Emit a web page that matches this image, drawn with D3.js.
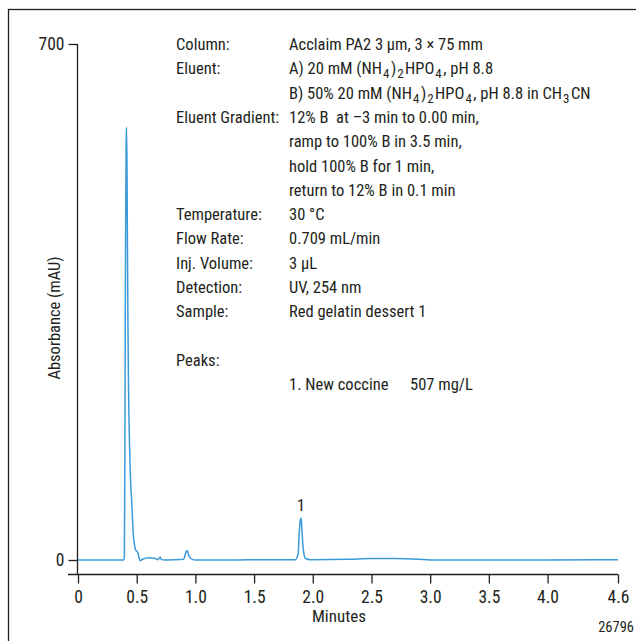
<!DOCTYPE html>
<html>
<head>
<meta charset="utf-8">
<script src="https://cdn.jsdelivr.net/npm/d3@7"></script>
<style>
  body { margin: 0; background: #fff; }
  svg text { font-family: "Liberation Sans Narrow", "Roboto Condensed", "Liberation Sans", sans-serif; fill: #231f20; white-space: pre; }
</style>
</head>
<body>
<div class="container"></div>
<script>
// chromatogram trace (minutes, mAU)
let times = [0, 0.2, 0.38, 0.39, 0.395, 0.40, 0.405, 0.41, 0.413, 0.417, 0.42, 0.425, 0.43, 0.44, 0.45, 0.457, 0.47, 0.48, 0.49, 0.50, 0.51, 0.52, 0.53, 0.55, 0.6, 0.65, 0.68, 0.70, 0.71, 0.75, 0.9, 0.91, 0.92, 0.93, 0.94, 0.95, 0.98, 1.0, 1.3, 1.6, 1.85, 1.875, 1.885, 1.895, 1.90, 1.905, 1.915, 1.925, 1.94, 1.98, 2.3, 2.5, 2.7, 2.9, 3.0, 3.5, 4.0, 4.6];
let absorb = [0, 0, 0, 0, 5, 180, 430, 565, 587, 540, 460, 330, 240, 150, 100, 81, 37, 22, 14, 12, 10, 3, -1, 1, 3, 2.5, 0.5, 4, 0.5, 0, 1, 5, 11, 13, 8, 4, 0.5, 0, 0, 0.5, 0.5, 8, 38, 55, 57, 48, 22, 8, 2, 0.5, 1, 2, 2, 1, 0, 0, 0, 0.5];

let xTicks = [0, 0.5, 1.0, 1.5, 2.0, 2.5, 3.0, 3.5, 4.0, 4.6];
let yTicks = [0, 700];

let peakTimes = [1.90], peakHeights = [57], peakLabels = ['1'];

let infoLabels = ['Column:', 'Eluent:', '', 'Eluent Gradient:', '', '', '', 'Temperature:', 'Flow Rate:', 'Inj. Volume:', 'Detection:', 'Sample:', '', 'Peaks:', ''];
let infoValues = [
  'Acclaim PA2 3 µm, 3 × 75 mm',
  'A) 20 mM (NH<sub>4</sub>)<sub>2</sub>HPO<sub>4</sub>, pH 8.8',
  'B) 50% 20 mM (NH<sub>4</sub>)<sub>2</sub>HPO<sub>4</sub>, pH 8.8 in CH<sub>3</sub>CN',
  '12% B  at –3 min to 0.00 min,',
  'ramp to 100% B in 3.5 min,',
  'hold 100% B for 1 min,',
  'return to 12% B in 0.1 min',
  '30 °C',
  '0.709 mL/min',
  '3 µL',
  'UV, 254 nm',
  'Red gelatin dessert 1',
  '',
  '',
  '1. New coccine'
];
let peakConc = '507 mg/L';

let svg = d3.select('.container')
  .append('svg')
  .attr('width', 636)
  .attr('height', 641);

// outer frame
svg.append('rect')
  .attr('x', 8.5).attr('y', 9.5)
  .attr('width', 700).attr('height', 700)
  .attr('fill', 'none').attr('stroke', '#231f20').attr('stroke-width', 1.3);

let xScale = d3.scaleLinear().domain([0, 4.6]).range([78, 618]);
let yScale = d3.scaleLinear().domain([0, 700]).range([560, 44]);

let xAxis = d3.axisBottom(xScale)
  .tickValues(xTicks)
  .tickFormat(d => d === 0 ? '0' : d3.format('.1f')(d))
  .tickSize(9)
  .tickSizeOuter(0);

let gx = svg.append('g')
  .attr('transform', 'translate(0, 574.5)')
  .call(xAxis);
gx.select('.domain').attr('d', 'M68,0H618');

let yAxis = d3.axisLeft(yScale)
  .tickValues(yTicks)
  .tickSize(9)
  .tickSizeOuter(0);

let gy = svg.append('g')
  .attr('transform', 'translate(77.5, 0)')
  .call(yAxis);
gy.select('.domain').attr('d', 'M0,44V574.5');

svg.selectAll('.tick text')
  .style('font-size', '17.5px')
  .style('fill', '#231f20');
gx.selectAll('.tick text').attr('dy', '0.95em');
gy.selectAll('.tick text').attr('x', -13);
svg.selectAll('.domain, .tick line')
  .attr('stroke', '#231f20')
  .attr('stroke-width', 1.3);

// trace
let points = times.map((t, i) => [t, absorb[i]]);
let line = d3.line()
  .x(d => xScale(d[0]))
  .y(d => yScale(d[1]))
  .curve(d3.curveMonotoneX);

svg.append('path')
  .datum(points)
  .attr('d', line)
  .attr('fill', 'none')
  .attr('stroke', '#3a9ad9')
  .attr('stroke-width', 1.5);

// peak labels
svg.selectAll('.peak-label')
  .data(peakTimes)
  .enter()
  .append('text')
  .attr('x', d => xScale(d))
  .attr('y', (d, i) => yScale(peakHeights[i]) - 7)
  .style('text-anchor', 'middle')
  .style('font-size', '17px')
  .text((d, i) => peakLabels[i]);

// axis titles
svg.append('text')
  .attr('transform', 'translate(60, 318) rotate(-90)')
  .style('text-anchor', 'middle')
  .style('font-size', '16.5px')
  .text('Absorbance (mAU)');

svg.append('text')
  .attr('x', 339).attr('y', 622)
  .style('text-anchor', 'middle')
  .style('font-size', '17px')
  .text('Minutes');

svg.append('text')
  .attr('x', 634).attr('y', 632)
  .style('text-anchor', 'end')
  .style('font-size', '14.5px')
  .text('26796');

// conditions block
let rowY = i => 50 + i * 24.3;

svg.selectAll('.info-label')
  .data(infoLabels)
  .enter()
  .append('text')
  .attr('x', 176)
  .attr('y', (d, i) => rowY(i))
  .style('font-size', '16.5px')
  .text(d => d);

svg.selectAll('.info-value')
  .data(infoValues)
  .enter()
  .append('text')
  .attr('x', 289)
  .attr('y', (d, i) => rowY(i))
  .style('font-size', '16.5px')
  .each(function(d) {
    let el = d3.select(this);
    let parts = d.split(/(<sub>.*?<\/sub>)/);
    let sub = false;
    parts.forEach(p => {
      if (!p) return;
      let m = p.match(/<sub>(.*?)<\/sub>/);
      if (m) {
        el.append('tspan').attr('dy', sub ? 0 : 4).attr('dx', 1).style('font-size', '13px').text(m[1]);
        sub = true;
      } else {
        el.append('tspan').attr('dy', sub ? -4 : 0).attr('dx', sub ? 1.5 : 0).text(p);
        sub = false;
      }
    });
  });

svg.append('text')
  .attr('x', 410)
  .attr('y', rowY(14))
  .style('font-size', '16.5px')
  .text(peakConc);
</script>
</body>
</html>
